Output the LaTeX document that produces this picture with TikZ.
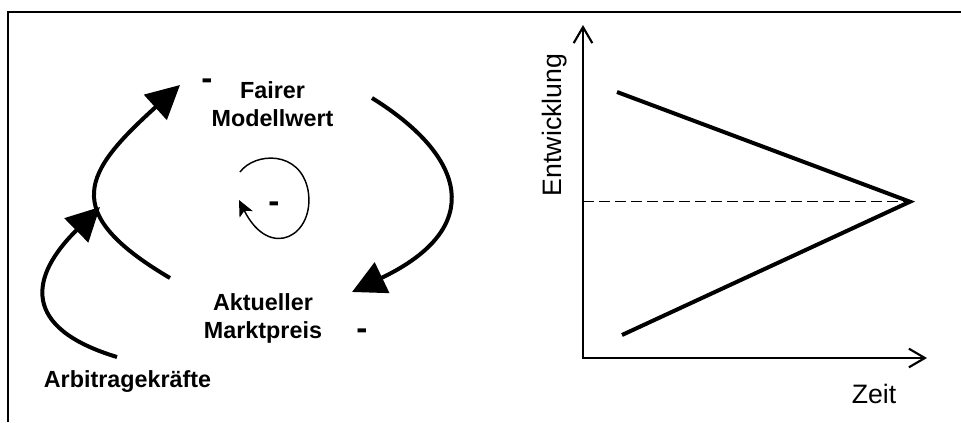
\documentclass[tikz,border=0pt]{standalone}
\usepackage{fontspec}
\setmainfont{Liberation Sans}
\usetikzlibrary{arrows.meta}
\begin{document}
\begin{tikzpicture}[x=0.75pt,y=-0.75pt,
  lbl/.style={font=\bfseries\fontsize{17.5}{21}\selectfont, inner sep=0pt, align=center},
  sign/.style={font=\bfseries\fontsize{25}{30}\selectfont, inner sep=0pt, anchor=base},
  axlbl/.style={font=\fontsize{20}{24}\selectfont, inner sep=0pt, anchor=base},
  bigarrow/.style={line width=3pt, -{Triangle[length=25pt,width=25pt]}},
  smallarrow/.style={line width=1.1pt, -{Stealth[length=12pt,width=11pt,inset=3pt]}},
  axis/.style={line width=1.6pt, {Straight Barb[length=12pt,width=14pt]}-{Straight Barb[length=12pt,width=14pt]}},
  trend/.style={line width=3pt, line join=miter},
  refline/.style={line width=1.1pt, dash pattern=on 8pt off 4pt},
  frame/.style={line width=1.5pt}]
\useasboundingbox (0,0) rectangle (961,422);
\draw[frame] (8,422) -- (8,12) -- (961,12);

% left: loop diagram
\node[lbl] (fmw) at (272.5,104) {Fairer\\Modellwert};
\node[lbl] (amp) at (263,318) {Aktueller\\Marktpreis};
\node[font=\bfseries\fontsize{17.5}{21}\selectfont, inner sep=0pt, anchor=base] (arb) at (127.5,387) {Arbitragekräfte};
\node[sign] (s1) at (207,89) {-};
\node[sign] (s2) at (274,212) {-};
\node[sign] (s3) at (362,339) {-};

\coordinate (l0) at (170,278); \coordinate (l1) at (180,85);
\draw[bigarrow] (l0) .. controls (58,212) and (84,172) .. (l1);
\coordinate (r0) at (372,98); \coordinate (r1) at (352,292);
\draw[bigarrow] (r0) .. controls (465.5,156) and (487,227.5) .. (r1);
\coordinate (a0) at (117,357); \coordinate (a1) at (100,207);
\draw[bigarrow] (a0) .. controls (21,328) and (29,277) .. (a1);
\coordinate (c0) at (240,172); \coordinate (c1) at (239,200);
\draw[smallarrow] (c0) .. controls (255,152) and (300,150) .. (308,190) .. controls (316,235) and (270,262) .. (c1);

% right: chart
\coordinate (O) at (583,358); \coordinate (ytop) at (583,25); \coordinate (xend) at (927,358);
\draw[axis] (ytop) -- (O) -- (xend);
\coordinate (p1) at (617,92); \coordinate (apex) at (910,201.7); \coordinate (p2) at (622,335);
\coordinate (d0) at (583,201.7);
\draw[refline] (d0) -- (apex);
\draw[trend] (p1) -- (apex) -- (p2);
\node[axlbl] (zeit) at (874,403) {Zeit};
\node[axlbl, rotate=90] (entw) at (561.7,125) {Entwicklung};
\end{tikzpicture}
\end{document}
